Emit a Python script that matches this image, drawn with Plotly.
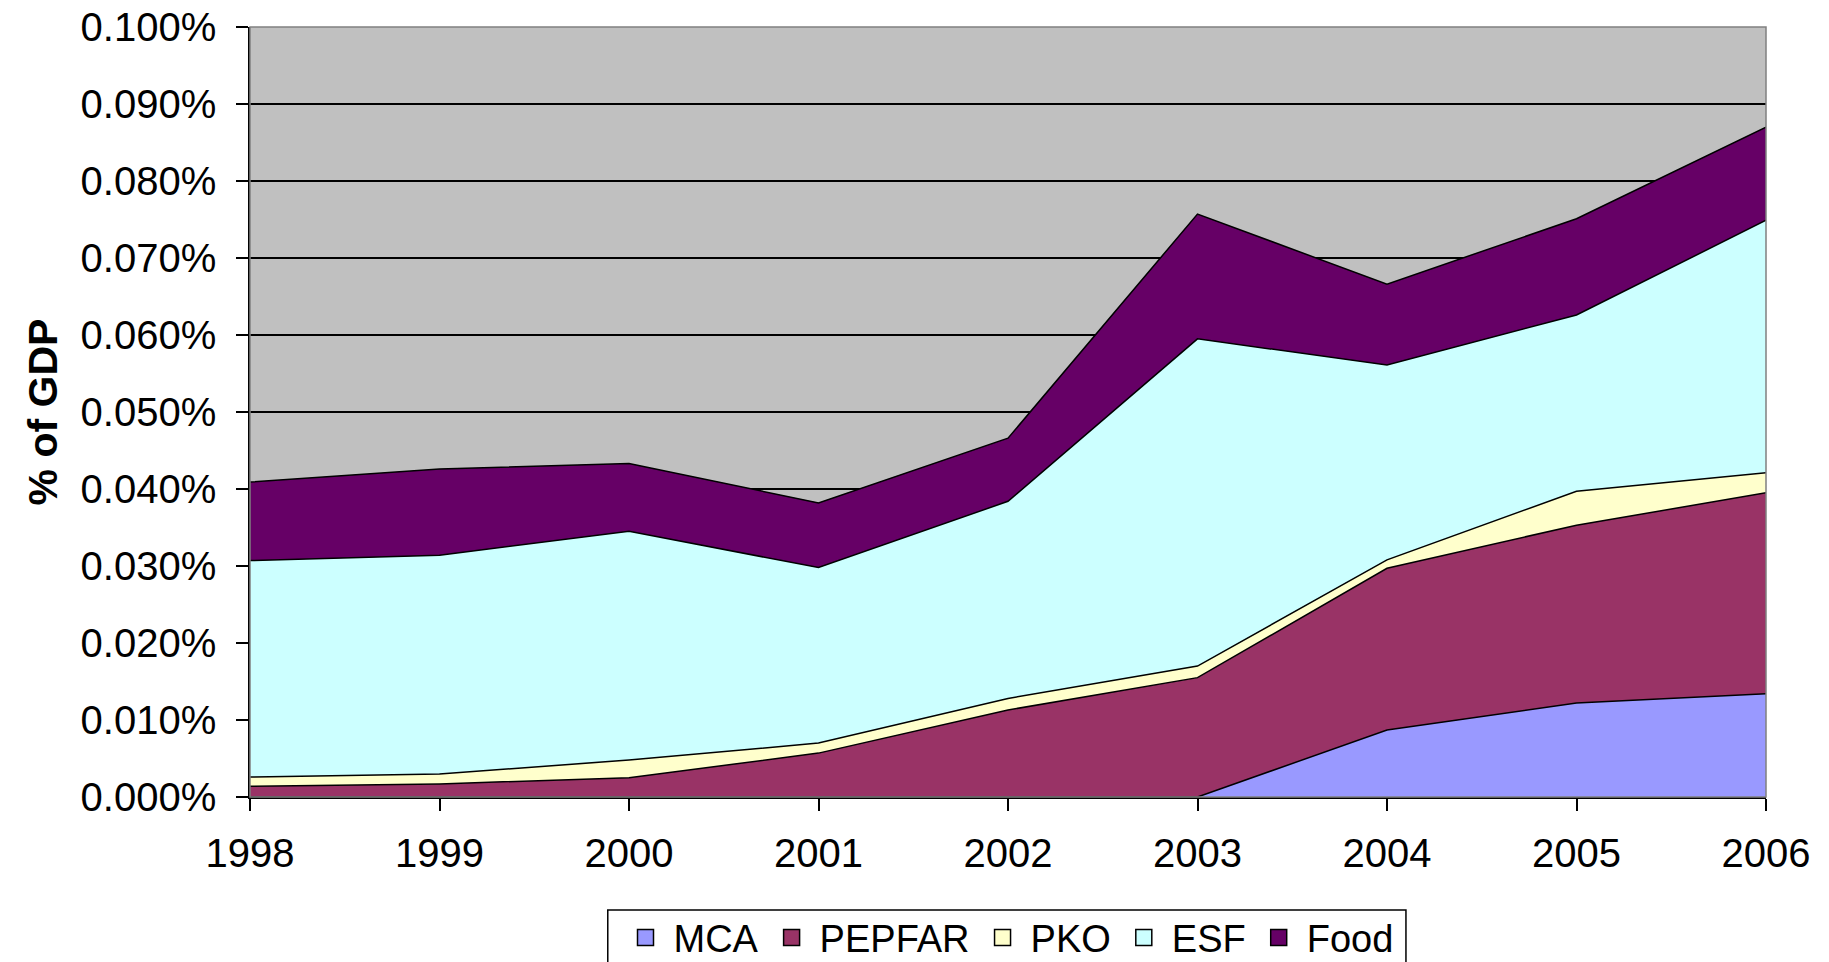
import plotly.graph_objects as go

# values in % of GDP
years = [1998, 1999, 2000, 2001, 2002, 2003, 2004, 2005, 2006]
mca = [0, 0, 0, 0, 0, 0, 0.0087, 0.0122, 0.0134]
pepfar = [0.0014, 0.0017, 0.0025, 0.0057, 0.0113, 0.0155, 0.0210, 0.0231, 0.0261]
pko = [0.0012, 0.0013, 0.0023, 0.0013, 0.0015, 0.0015, 0.0011, 0.0044, 0.0026]
esf = [0.0281, 0.0284, 0.0297, 0.0228, 0.0256, 0.0425, 0.0253, 0.0229, 0.0328]
food = [0.0102, 0.0112, 0.0088, 0.0084, 0.0082, 0.0162, 0.0105, 0.0125, 0.0121]

series = [
    ("MCA", mca, "#9999FF"),
    ("PEPFAR", pepfar, "#993366"),
    ("PKO", pko, "#FFFFCC"),
    ("ESF", esf, "#CCFFFF"),
    ("Food", food, "#660066"),
]

FONT = "Liberation Sans, Arial, sans-serif"

fig = go.Figure()

# stacked areas
for name, vals, color in series:
    fig.add_trace(go.Scatter(
        x=years, y=vals, name=name, stackgroup="one", mode="lines",
        line=dict(color="black", width=1.5), fillcolor=color,
        showlegend=False, hoverinfo="x+y+name"))

# square legend entries like the original (added in reverse, legend shows stacks reversed)
for name, vals, color in reversed(series):
    fig.add_trace(go.Scatter(
        x=[None], y=[None], name=name, mode="markers",
        marker=dict(symbol="square", size=22, color=color,
                    line=dict(color="black", width=1.5))))

# grey plot frame
fig.add_shape(type="rect", xref="paper", yref="paper", x0=0, x1=1, y0=0, y1=1,
              line=dict(color="#808080", width=1.5), layer="above")
# legend frame, running off the bottom edge like the original
fig.add_shape(type="rect", xref="paper", yref="paper", x0=0.236, x1=0.7625,
              y0=-0.3, y1=-0.1468, fillcolor="white",
              line=dict(color="black", width=1.5), layer="above")

fig.update_layout(
    width=1829, height=962,
    margin=dict(l=242, r=71, t=19, b=173, autoexpand=False),
    paper_bgcolor="white", plot_bgcolor="#C0C0C0",
    font=dict(family=FONT, size=36, color="black"),
    legend=dict(orientation="h", x=0.5, xanchor="center", y=-0.142, yanchor="top",
                borderwidth=0, font=dict(size=38),
                itemwidth=46, tracegroupgap=0, bgcolor="rgba(0,0,0,0)"),
)

fig.update_xaxes(
    range=[1998, 2006], tickvals=years, ticktext=[str(y) for y in years],
    tickfont=dict(size=40),
    showgrid=False, zeroline=False, showline=True, linecolor="black", linewidth=1.5,
    ticks="outside", ticklen=12, tickwidth=1.5, tickcolor="black",
    ticklabelstandoff=8)

fig.update_yaxes(
    range=[0, 0.1], dtick=0.01, tickformat=".3f", ticksuffix="%",
    tickfont=dict(size=40),
    showgrid=True, gridcolor="black", gridwidth=1.5, zeroline=False,
    showline=True, linecolor="black", linewidth=1.5,
    ticks="outside", ticklen=12, tickwidth=1.5, tickcolor="black",
    ticklabelstandoff=12, ticklabeloverflow="allow",
    title=dict(text="<b>% of GDP</b>", standoff=10, font=dict(size=41)))

fig.write_html("out.html")
